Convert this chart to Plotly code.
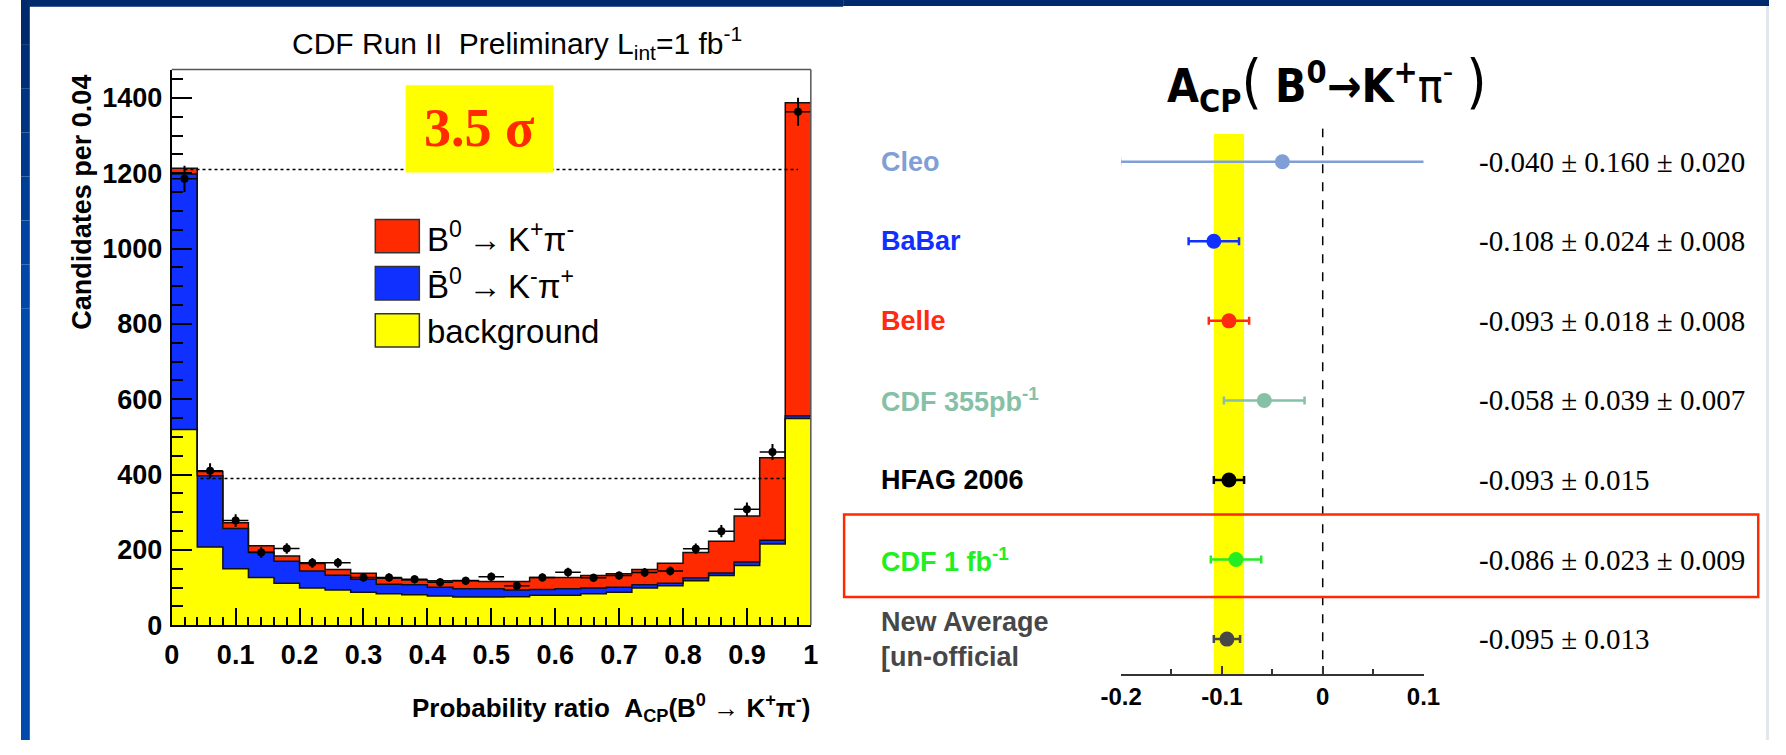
import numpy as np
import plotly.graph_objects as go

W, H = 1786, 755

# ---------------- Left panel: A_CP probability-ratio histogram ----------------
bin_edges = np.round(np.linspace(0.0, 1.0, 26), 2)          # 25 bins of 0.04
background = [520, 208, 150, 127, 112, 99, 94, 88, 84, 81, 78, 75, 75,
              76, 80, 80, 84, 88, 99, 105, 118, 132, 159, 216, 549]
b0bar_kpi = [678, 189, 107, 67, 58, 45, 39, 34, 25, 27, 23, 22, 22,
             18, 15, 17, 15, 13, 9, 7, 8, 7, 9, 10, 7]
b0_kpi = [15, 11, 15, 17, 14, 20, 15, 16, 16, 12, 17, 22, 19,
          22, 32, 30, 33, 36, 40, 53, 67, 84, 122, 219, 831]
data_counts = [1185, 410, 278, 193, 204, 166, 166, 127, 127, 122, 114, 118, 129,
               105, 127, 141, 126, 132, 140, 144, 203, 250, 308, 460, 1363]
data_err = [35, 20, 17, 14, 14, 13, 13, 11, 11, 11, 11, 11, 11,
            10, 11, 12, 11, 11, 12, 12, 14, 16, 18, 21, 37]
bin_half = 0.02
dotted_levels = [1210, 390]
dotted_spans = [(0.02, 0.98), (0.045, 0.963)]

# ---------------- Right panel: A_CP(B0 -> K+ pi-) measurements ----------------
experiments = ["Cleo", "BaBar", "Belle", "CDF 355pb<sup>-1</sup>", "HFAG 2006",
               "CDF 1 fb<sup>-1</sup>", "New Average<br>[un-official"]
acp_values = [-0.040, -0.108, -0.093, -0.058, -0.093, -0.086, -0.095]
acp_errors = [0.161, 0.025, 0.020, 0.040, 0.015, 0.025, 0.013]
value_labels = ["-0.040 ± 0.160 ± 0.020", "-0.108 ± 0.024 ± 0.008",
                "-0.093 ± 0.018 ± 0.008", "-0.058 ± 0.039 ± 0.007",
                "-0.093 ± 0.015", "-0.086 ± 0.023 ± 0.009", "-0.095 ± 0.013"]
exp_colors = ["#7f9fd6", "#1030ff", "#ff2a10", "#86c0a6", "#000000",
              "#22ee22", "#474747"]
hfag_band = (-0.108, -0.078)
right_ticks = [-0.2, -0.1, 0.0, 0.1]
right_ticktext = ["-0.2", "-0.1", "0", "0.1"]

SANS = "Liberation Sans, Arial, Helvetica, sans-serif"
NARROW = "Liberation Sans Narrow, DejaVu Sans Condensed, Liberation Sans, Arial, sans-serif"
SERIF = "Liberation Serif, Times New Roman, serif"

def px(x):
    return x / W

def py(y):
    return 1 - y / H

fig = go.Figure()

# stacked step histograms
lo = list(bin_edges)
bg_cum = list(background) + [background[-1]]
blue_cum = [a + b for a, b in zip(background, b0bar_kpi)]
red_cum = [a + b for a, b in zip(blue_cum, b0_kpi)]
blue_cum = blue_cum + [blue_cum[-1]]
red_cum = red_cum + [red_cum[-1]]

fig.add_trace(go.Scatter(x=lo, y=bg_cum, mode="lines", line=dict(shape="hv", color="#111", width=1.5),
                         fill="tozeroy", fillcolor="#ffff00", xaxis="x", yaxis="y", hoverinfo="skip"))
fig.add_trace(go.Scatter(x=lo, y=blue_cum, mode="lines", line=dict(shape="hv", color="#111", width=1.5),
                         fill="tonexty", fillcolor="#1030ff", xaxis="x", yaxis="y", hoverinfo="skip"))
fig.add_trace(go.Scatter(x=lo, y=red_cum, mode="lines", line=dict(shape="hv", color="#111", width=1.5),
                         fill="tonexty", fillcolor="#ff2a00", xaxis="x", yaxis="y", hoverinfo="skip"))

centers = [round(a + bin_half, 3) for a in bin_edges[:-1]]
fig.add_trace(go.Scatter(x=centers, y=data_counts, mode="markers",
                         marker=dict(color="#000", size=8),
                         error_y=dict(type="data", array=data_err, color="#000", thickness=2, width=0),
                         error_x=dict(type="constant", value=bin_half, color="#000", thickness=1.5, width=0),
                         xaxis="x", yaxis="y", cliponaxis=False))

# right panel points
for i in range(len(experiments)):
    fig.add_trace(go.Scatter(x=[acp_values[i]], y=[i], mode="markers",
                             marker=dict(color=exp_colors[i], size=15),
                             error_x=dict(type="data", array=[acp_errors[i]], color=exp_colors[i],
                                          thickness=2.5, width=4),
                             xaxis="x2", yaxis="y2", cliponaxis=False))

shapes = []
# slide frame
grad = ["#00296b", "#002e76", "#003380", "#00388b", "#003e96", "#0043a0", "#0047a8", "#004aac"]
for k, c in enumerate(grad):
    y0 = k * 45
    y1 = H if k == len(grad) - 1 else (k + 1) * 45
    shapes.append(dict(type="rect", xref="paper", yref="paper", x0=0, x1=px(9), y0=py(y1), y1=py(y0),
                       fillcolor=c, line=dict(width=0), layer="above"))
shapes.append(dict(type="rect", xref="paper", yref="paper", x0=0, x1=px(840), y0=py(7), y1=1,
                   fillcolor="#002a6e", line=dict(width=0), layer="above"))
shapes.append(dict(type="rect", xref="paper", yref="paper", x0=px(840), x1=1, y0=py(6), y1=1,
                   fillcolor="#002a6e", line=dict(width=0), layer="above"))
shapes.append(dict(type="rect", xref="paper", yref="paper", x0=px(1783), x1=1, y0=0, y1=py(6),
                   fillcolor="#e4e6ee", line=dict(width=0), layer="above"))

# left plot frame (top/right thin)
shapes.append(dict(type="line", xref="x domain", yref="y domain", x0=0, x1=1, y0=1, y1=1,
                   line=dict(color="#555", width=1.5), layer="above"))
shapes.append(dict(type="line", xref="x domain", yref="y domain", x0=1, x1=1, y0=0, y1=1,
                   line=dict(color="#555", width=1.5), layer="above"))

# dotted lines
for lvl, (a, b) in zip(dotted_levels, dotted_spans):
    shapes.append(dict(type="line", xref="x", yref="y", x0=a, x1=b, y0=lvl, y1=lvl,
                       line=dict(color="#000", width=1.5, dash="dot"), layer="above"))

# 3.5 sigma box
shapes.append(dict(type="rect", xref="paper", yref="paper", x0=px(393), x1=px(544), y0=py(176), y1=py(87),
                   fillcolor="#ffff00", line=dict(width=0), layer="above"))

# legend boxes
leg_cols = ["#ff2a00", "#1030ff", "#ffff00"]
leg_y = [(224, 258), (272, 306), (320, 354)]
for c, (a, b) in zip(leg_cols, leg_y):
    shapes.append(dict(type="rect", xref="paper", yref="paper", x0=px(362), x1=px(407), y0=py(b), y1=py(a),
                       fillcolor=c, line=dict(color="#333", width=1.5), layer="above"))

# right panel band / zero line / highlight box
shapes.append(dict(type="rect", xref="x2", yref="y2", x0=hfag_band[0], x1=hfag_band[1], y0=-0.35, y1=6.443,
                   fillcolor="#ffff00", line=dict(width=0), layer="below"))
shapes.append(dict(type="line", xref="x2", yref="y2", x0=0, x1=0, y0=-0.42, y1=6.443,
                   line=dict(color="#000", width=1.5, dash="dash"), layer="below"))
shapes.append(dict(type="rect", xref="paper", yref="paper", x0=px(841), x1=px(1775), y0=py(609), y1=py(525),
                   fillcolor="rgba(0,0,0,0)", line=dict(color="#ff2a00", width=2.5), layer="above"))

ann = []
ann.append(dict(xref="paper", yref="paper", x=px(507), y=py(44), xanchor="center", yanchor="middle",
                text="CDF Run II\u00a0\u00a0Preliminary L<sub>int</sub>=1 fb<sup>-1</sup>",
                showarrow=False, font=dict(family=SANS, size=30, color="#000")))
ann.append(dict(xref="paper", yref="paper", x=px(468), y=py(131), xanchor="center", yanchor="middle",
                text="<b>3.5 σ</b>", showarrow=False, font=dict(family=SERIF, size=54, color="#ff2a00")))
leg_text = ["B<sup>0</sup>\u2009→\u2009K<sup>+</sup>π<sup>-</sup>",
            "B\u0304<sup>0</sup>\u2009→\u2009K<sup>-</sup>π<sup>+</sup>",
            "background"]
for t, (a, b) in zip(leg_text, leg_y):
    ann.append(dict(xref="paper", yref="paper", x=px(413), y=py((a + b) / 2 + 1), xanchor="left",
                    yanchor="middle", text=t, showarrow=False, font=dict(family=SANS, size=33, color="#000")))
ann.append(dict(xref="paper", yref="paper", x=px(62), y=py(74), xanchor="center", yanchor="top",
                textangle=-90, text="<b>Candidates per 0.04</b>", showarrow=False,
                font=dict(family=SANS, size=27, color="#000")))
ann.append(dict(xref="paper", yref="paper", x=px(808), y=py(722), xanchor="right", yanchor="middle",
                text="<b>Probability ratio\u00a0\u00a0A<sub>CP</sub>(B<sup>0</sup> → K<sup>+</sup>π<sup>-</sup>)</b>",
                showarrow=False, font=dict(family=SANS, size=26, color="#000")))

# right panel title
ann.append(dict(xref="paper", yref="paper", x=px(1334), y=py(86), xanchor="center", yanchor="middle",
                text="<b>A<sub>CP</sub></b><span style='font-size:58px'>(</span> <b>B<sup>0</sup>→K<sup>+</sup></b>"
                     "π<sup>-</sup> <span style='font-size:58px'>)</span>",
                showarrow=False, font=dict(family=NARROW, size=46, color="#000")))

for i in range(len(experiments)):
    ann.append(dict(xref="paper", yref="y2", x=px(877), y=i, xanchor="left", yanchor="middle",
                    text="<b>" + experiments[i] + "</b>", showarrow=False, align="left",
                    font=dict(family=SANS, size=27, color=exp_colors[i])))
    ann.append(dict(xref="paper", yref="y2", x=px(1488), y=i, xanchor="left", yanchor="middle",
                    text=value_labels[i], showarrow=False,
                    font=dict(family=SERIF, size=29, color="#000")))

fig.update_layout(
    width=W, height=H, margin=dict(l=0, r=0, t=0, b=0),
    paper_bgcolor="#ffffff", plot_bgcolor="rgba(0,0,0,0)", showlegend=False,
    shapes=shapes, annotations=ann,
    xaxis=dict(domain=[px(154), px(807)], range=[0, 1], anchor="y",
               showline=True, linecolor="#000", linewidth=2, showgrid=False, zeroline=False,
               ticks="inside", ticklen=17, tickwidth=2, tickcolor="#000", dtick=0.1, tick0=0,
               minor=dict(ticks="inside", dtick=0.02, ticklen=8, tickwidth=1.5, tickcolor="#000"),
               ticklabelstandoff=4,
               tickfont=dict(family=SANS, size=27, color="#000", weight="bold")),
    yaxis=dict(domain=[py(638), py(71)], range=[0, 1475], anchor="x",
               showline=True, linecolor="#000", linewidth=2, showgrid=False, zeroline=False,
               ticks="inside", ticklen=20, tickwidth=2, tickcolor="#000", dtick=200, tick0=0,
               minor=dict(ticks="inside", dtick=50, ticklen=11, tickwidth=1.5, tickcolor="#000"),
               ticklabelstandoff=2,
               tickfont=dict(family=SANS, size=27, color="#000", weight="bold")),
    xaxis2=dict(domain=[px(1124), px(1433)], range=[-0.2, 0.1], anchor="y2",
                showline=True, linecolor="#333", linewidth=2, showgrid=False, zeroline=False,
                ticks="inside", ticklen=8, tickwidth=2, tickcolor="#333",
                tickmode="array", tickvals=right_ticks, ticktext=right_ticktext,
                minor=dict(ticks="inside", tickvals=[-0.15, -0.05, 0.05], ticklen=5, tickwidth=1.5,
                           tickcolor="#333"),
                tickfont=dict(family=SANS, size=24, color="#000", weight="bold")),
    yaxis2=dict(domain=[py(688), py(131)], range=[6.443, -0.419], anchor="x2", visible=False),
)

fig.write_html("out.html")
